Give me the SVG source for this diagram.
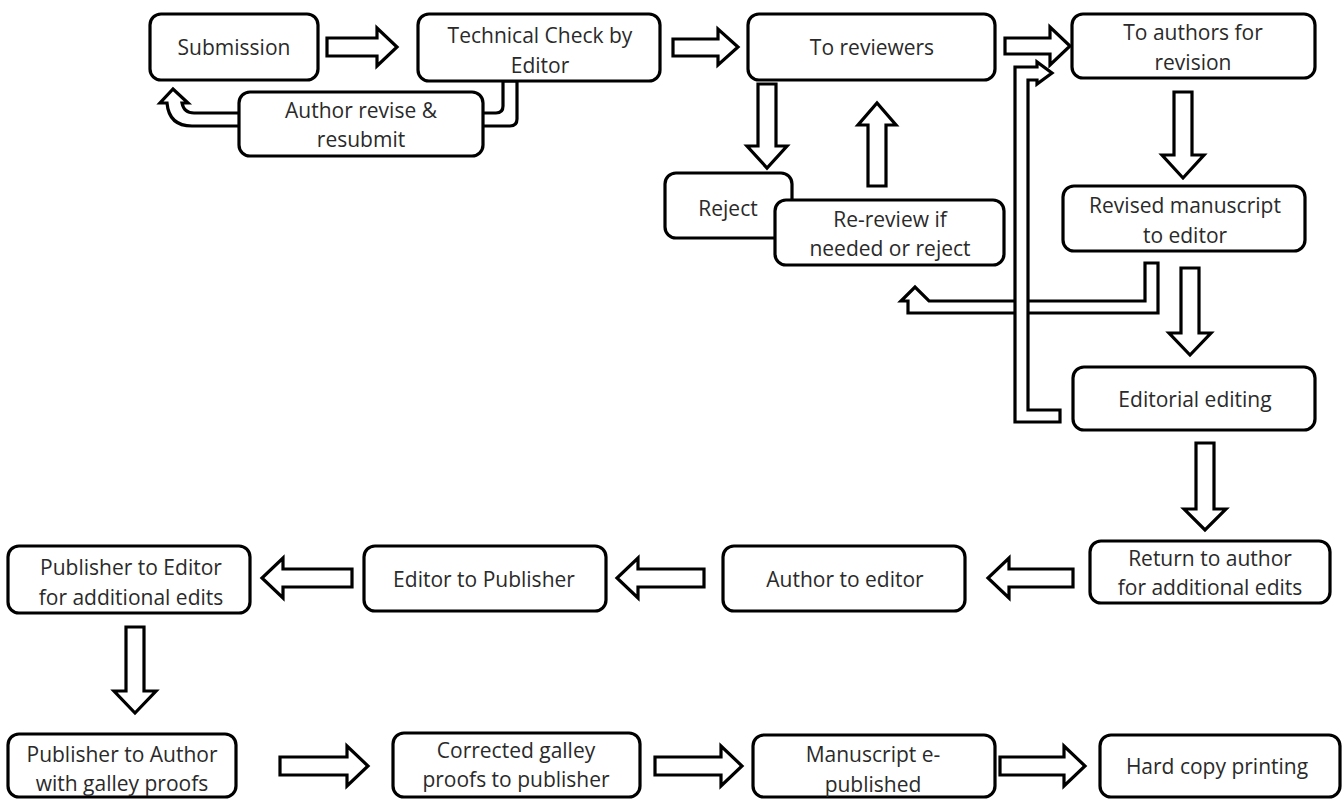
<svg xmlns="http://www.w3.org/2000/svg" width="1344" height="799" viewBox="0 0 1344 799">
<style>
.box{fill:#fff;stroke:#000;stroke-width:3.2}
.arr{fill:#fff;stroke:#000;stroke-width:3.2;stroke-linejoin:miter}
text{font-family:"Open Sans","Noto Sans",sans-serif;font-size:21px;fill:#2a2a2a;text-anchor:middle;dominant-baseline:central}
</style>
<rect width="1344" height="799" fill="#fff"/>
<g id="connectors">
<path class="arr" d="M327,38 H377 V28 L397,47 L377,66 V56 H327 Z"/>
<path class="arr" d="M673,39 H718 V29 L738,47 L718,65 V56 H673 Z"/>
<path class="arr" d="M1005,38 H1050 V27 L1070,46 L1050,65 V54 H1005 Z"/>
<path class="arr" d="M503,81 V106 Q503,113 496,113 H194 Q184,113 182,103 H188 L173,89 L160,103 H167 Q169,126 192,126 H510 Q517,126 517,119 V81 Z"/>
<path class="arr" d="M758,84 V146 H747 L767,168 L787,146 H776 V84 Z"/>
<path class="arr" d="M868,186 V125 H858 L877,103 L896,125 H886 V186 Z"/>
<path class="arr" d="M1174,92 V155 H1162 L1183,178 L1204,155 H1192 V92 Z"/>
<path class="arr" d="M1145,263 H1158 V313 H908 V301 H901 L915,287 L929,301 H1145 Z"/>
<path class="arr" d="M1181,268 V333 H1169 L1190,355 L1211,333 H1199 V268 Z"/>
<path class="arr" d="M1060,410 H1028 V80 H1037 V84 L1052,73 L1037,62 V67 H1015 V422 H1060 Z"/>
<path class="arr" d="M1196,443 V509 H1184 L1205,530 L1226,509 H1214 V443 Z"/>
<path class="arr" d="M1073,569 H1009 V558 L988,578 L1009,598 V587 H1073 Z"/>
<path class="arr" d="M704,569 H638 V558 L617,578 L638,598 V587 H704 Z"/>
<path class="arr" d="M352,569 H283 V558 L262,578 L283,598 V587 H352 Z"/>
<path class="arr" d="M126,627 V691 H114 L135,713 L156,691 H144 V627 Z"/>
<path class="arr" d="M280,757 H347 V746 L368,766 L347,786 V775 H280 Z"/>
<path class="arr" d="M655,757 H721 V746 L742,766 L721,786 V775 H655 Z"/>
<path class="arr" d="M1000,757 H1064 V746 L1085,766 L1064,786 V775 H1000 Z"/>
</g>
<g id="n-submission"><rect class="box" x="150" y="14" width="168" height="66" rx="11"/><text x="234" y="47">Submission</text></g>
<g id="n-technical"><rect class="box" x="418" y="14" width="242" height="67" rx="11"/><text x="540" y="35">Technical Check by</text><text x="540" y="65">Editor</text></g>
<g id="n-author-revise"><rect class="box" x="239" y="92" width="244" height="64" rx="11"/><text x="361" y="110">Author revise &amp;</text><text x="361" y="139">resubmit</text></g>
<g id="n-to-reviewers"><rect class="box" x="748" y="14" width="247" height="66" rx="11"/><text x="872" y="47">To reviewers</text></g>
<g id="n-to-authors"><rect class="box" x="1072" y="14" width="243" height="64" rx="11"/><text x="1193" y="32">To authors for</text><text x="1193" y="62">revision</text></g>
<g id="n-reject"><rect class="box" x="665" y="173" width="127" height="65" rx="11"/><text x="728" y="208">Reject</text></g>
<g id="n-rereview"><rect class="box" x="775" y="200" width="229" height="65" rx="11"/><text x="890" y="219">Re-review if</text><text x="890" y="248">needed or reject</text></g>
<g id="n-revised"><rect class="box" x="1063" y="186" width="242" height="65" rx="11"/><text x="1185" y="205">Revised manuscript</text><text x="1185" y="235">to editor</text></g>
<g id="n-editorial"><rect class="box" x="1073" y="367" width="242" height="63" rx="11"/><text x="1195" y="399">Editorial editing</text></g>
<g id="n-return"><rect class="box" x="1090" y="541" width="240" height="62" rx="11"/><text x="1210" y="558">Return to author</text><text x="1210" y="587">for additional edits</text></g>
<g id="n-author-editor"><rect class="box" x="723" y="546" width="242" height="65" rx="11"/><text x="845" y="579">Author to editor</text></g>
<g id="n-editor-publisher"><rect class="box" x="364" y="546" width="242" height="65" rx="11"/><text x="484" y="579">Editor to Publisher</text></g>
<g id="n-publisher-editor"><rect class="box" x="8" y="546" width="242" height="67" rx="11"/><text x="131" y="567">Publisher to Editor</text><text x="131" y="597">for additional edits</text></g>
<g id="n-publisher-author"><rect class="box" x="8" y="734" width="228" height="63" rx="11"/><text x="122" y="754">Publisher to Author</text><text x="122" y="783">with galley proofs</text></g>
<g id="n-corrected"><rect class="box" x="393" y="733" width="247" height="64" rx="11"/><text x="516" y="750">Corrected galley</text><text x="516" y="779">proofs to publisher</text></g>
<g id="n-epublished"><rect class="box" x="753" y="735" width="242" height="62" rx="11"/><text x="873" y="754">Manuscript e-</text><text x="873" y="784">published</text></g>
<g id="n-hardcopy"><rect class="box" x="1100" y="735" width="240" height="62" rx="11"/><text x="1217" y="766">Hard copy printing</text></g>
</svg>
